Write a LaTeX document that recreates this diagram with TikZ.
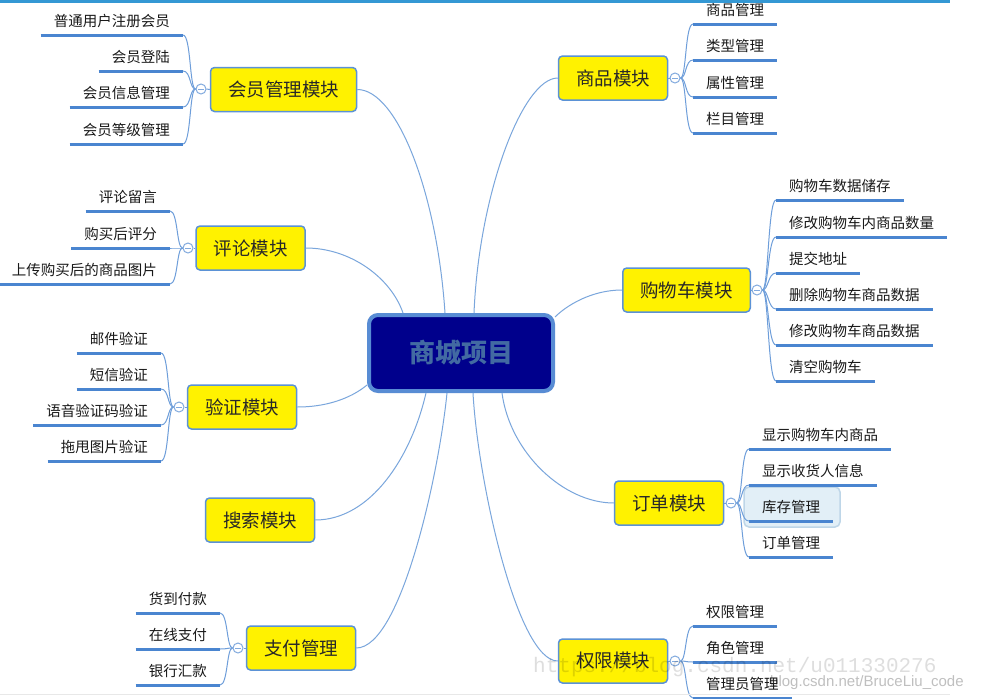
\documentclass[tikz,border=0pt]{standalone}
\usepackage{fontspec}
\newfontfamily\cjk{Noto Sans CJK SC}
\newfontfamily\wmmono{Liberation Mono}
\newfontfamily\wmsans{Liberation Sans}
\usetikzlibrary{calc}
\definecolor{linec}{RGB}{122,166,220}
\definecolor{branchc}{RGB}{110,158,218}
\definecolor{ulinec}{RGB}{74,133,208}
\definecolor{boxb}{RGB}{91,146,214}
\definecolor{modtext}{RGB}{40,40,40}
\definecolor{kidtext}{RGB}{25,25,25}
\definecolor{navyc}{RGB}{0,0,140}
\definecolor{centb}{RGB}{88,140,212}
\definecolor{centt}{RGB}{66,106,162}
\definecolor{circc}{RGB}{130,170,222}
\definecolor{hlfill}{RGB}{226,239,247}
\definecolor{hlline}{RGB}{190,214,232}
\definecolor{topline}{RGB}{52,152,212}
\definecolor{botline}{RGB}{232,232,232}
\begin{document}
\begin{tikzpicture}[x=1pt,y=-1pt,
  module/.style={draw=boxb, line width=1.5pt, fill=yellow, rounded corners=4pt,
    minimum height=44pt, inner xsep=17.5pt, inner ysep=0pt,
    font=\cjk\fontsize{18.5}{20}\selectfont, text=modtext},
  centernode/.style={draw=centb, line width=4pt, fill=navyc, rounded corners=9pt,
    minimum width=184pt, minimum height=76pt,
    font=\cjk\bfseries\fontsize{26}{28}\selectfont, text=centt},
  kid/.style={font=\cjk\fontsize{14.5}{16}\selectfont, text=kidtext,
    text height=11pt, text depth=3pt, inner xsep=13pt, inner ysep=5.5pt},
  lkid/.style={kid, anchor=south east},
  rkid/.style={kid, anchor=south west},
  collapse/.style={circle, draw=circc, fill=white, line width=1pt,
    minimum size=10pt, inner sep=0pt,
    path picture={\draw[circc, line width=0.9pt]
      ([xshift=-2.6pt]path picture bounding box.center) --
      ([xshift=2.6pt]path picture bounding box.center);}},
  mainline/.style={draw=linec, line width=1pt},
  branch/.style={draw=branchc, line width=1pt},
  uline/.style={draw=ulinec, line width=3pt},
  hilite/.style={fill=hlfill, draw=hlline, line width=1.5pt, rounded corners=5pt}
]
\useasboundingbox (0,0) rectangle (983,699);
\fill[white] (0,0) rectangle (983,699);

% highlight behind 库存管理
\path[hilite] (744,487) rectangle (840,527);

% centre
\node[centernode] (c) at (461,353) {商城项目};

% modules
\node[module] (m1) at (283.5,89.5) {会员管理模块};
\node[module] (m2) at (250.5,248) {评论模块};
\node[module] (m5) at (242,407) {验证模块};
\node[module] (m6) at (260,520) {搜索模块};
\node[module] (m7) at (301,648) {支付管理};
\node[module] (m3) at (613,78) {商品模块};
\node[module] (m4) at (686.5,290) {购物车模块};
\node[module] (m8) at (669,503) {订单模块};
\node[module] (m9) at (613,661) {权限模块};

% collapse circles
\node[collapse] (m1o) at (201,89) {};
\node[collapse] (m2o) at (188,248) {};
\node[collapse] (m5o) at (179,407) {};
\node[collapse] (m7o) at (238,648) {};
\node[collapse] (m3o) at (675,78) {};
\node[collapse] (m4o) at (757,290) {};
\node[collapse] (m8o) at (731,503) {};
\node[collapse] (m9o) at (675,661) {};

% children, left side
\node[lkid] (m1a) at (183,35) {普通用户注册会员};
\node[lkid] (m1b) at (183,71) {会员登陆};
\node[lkid] (m1c) at (183,107) {会员信息管理};
\node[lkid] (m1d) at (183,144) {会员等级管理};

\node[lkid] (m2a) at (170,211) {评论留言};
\node[lkid] (m2b) at (170,248) {购买后评分};
\node[lkid] (m2c) at (170,284) {上传购买后的商品图片};

\node[lkid] (m5a) at (161,353) {邮件验证};
\node[lkid] (m5b) at (161,389) {短信验证};
\node[lkid] (m5c) at (161,425) {语音验证码验证};
\node[lkid] (m5d) at (161,461) {拖甩图片验证};

\node[lkid] (m7a) at (220,613) {货到付款};
\node[lkid] (m7b) at (220,649) {在线支付};
\node[lkid] (m7c) at (220,685) {银行汇款};

% children, right side
\node[rkid] (m3a) at (693,24) {商品管理};
\node[rkid] (m3b) at (693,60) {类型管理};
\node[rkid] (m3c) at (693,97) {属性管理};
\node[rkid] (m3d) at (693,133) {栏目管理};

\node[rkid] (m4a) at (776,200) {购物车数据储存};
\node[rkid] (m4b) at (776,237) {修改购物车内商品数量};
\node[rkid] (m4c) at (776,273) {提交地址};
\node[rkid] (m4d) at (776,309) {删除购物车商品数据};
\node[rkid] (m4e) at (776,345) {修改购物车商品数据};
\node[rkid] (m4f) at (776,381) {清空购物车};

\node[rkid] (m8a) at (749,449) {显示购物车内商品};
\node[rkid] (m8b) at (749,485) {显示收货人信息};
\node[rkid] (m8c) at (749,521) {库存管理};
\node[rkid] (m8d) at (749,557) {订单管理};

\node[rkid] (m9a) at (693,626) {权限管理};
\node[rkid] (m9b) at (693,662) {角色管理};
\node[rkid] (m9c) at (693,698) {管理员管理};

% brackets and underlines, left
\foreach \m/\kids in {m1/{a,b,c,d}, m2/{a,b,c}, m5/{a,b,c,d}, m7/{a,b,c}}{
  \draw[branch] (\m.west) -- (\m o.east);
  \foreach \k in \kids {
    \draw[branch] (\m o.west) .. controls +(-6,0) and +(8,0) .. (\m\k.south east);
    \draw[uline] (\m\k.south west) -- (\m\k.south east);
  }
}
% brackets and underlines, right
\foreach \m/\kids in {m3/{a,b,c,d}, m4/{a,b,c,d,e,f}, m8/{a,b,c,d}, m9/{a,b,c}}{
  \draw[branch] (\m.east) -- (\m o.west);
  \foreach \k in \kids {
    \draw[branch] (\m o.east) .. controls +(6,0) and +(-8,0) .. (\m\k.south west);
    \draw[uline] (\m\k.south west) -- (\m\k.south east);
  }
}

% main connectors
\draw[mainline] (m1.east) .. controls +(40,0) and +(-8,-120) .. ([xshift=-16pt]c.north);
\draw[mainline] (m2.east) .. controls +(45,0) and +(-12,-35) .. ([xshift=-58pt]c.north);
\draw[mainline] (m3.west) .. controls +(-35,0) and +(5,-120) .. ([xshift=13pt]c.north);
\draw[mainline] (m4.west) .. controls +(-30,0) and +(12,-12) .. ([yshift=-4pt]c.north east);
\draw[mainline] (m5.east) .. controls +(35,0) and +(-12,10) .. ([yshift=8pt]c.south west);
\draw[mainline] (m6.east) .. controls +(55,0) and +(-15,65) .. ([xshift=-35pt]c.south);
\draw[mainline] (m7.east) .. controls +(45,0) and +(-8,80) .. ([xshift=-14pt]c.south);
\draw[mainline] (m9.west) .. controls +(-40,0) and +(5,90) .. ([xshift=12pt]c.south);
\draw[mainline] (m8.west) .. controls +(-50,0) and +(8,60) .. ([xshift=41pt]c.south);

% frame lines
\draw[topline, line width=3pt] (0,1.5) -- (950,1.5);
\draw[botline, line width=1pt] (0,694) -- (950,694);

% watermark
\node[anchor=west, font=\wmmono\fontsize{21}{22}\selectfont, text=black, opacity=0.13, inner sep=0pt] (wm1) at (533,667) {https://blog.csdn.net/u011330276};
\node[anchor=west, font=\wmsans\fontsize{15}{16}\selectfont, text=black, opacity=0.25, inner sep=0pt] (wm2) at (770,683) {blog.csdn.net/BruceLiu\_code};
\end{tikzpicture}
\end{document}
